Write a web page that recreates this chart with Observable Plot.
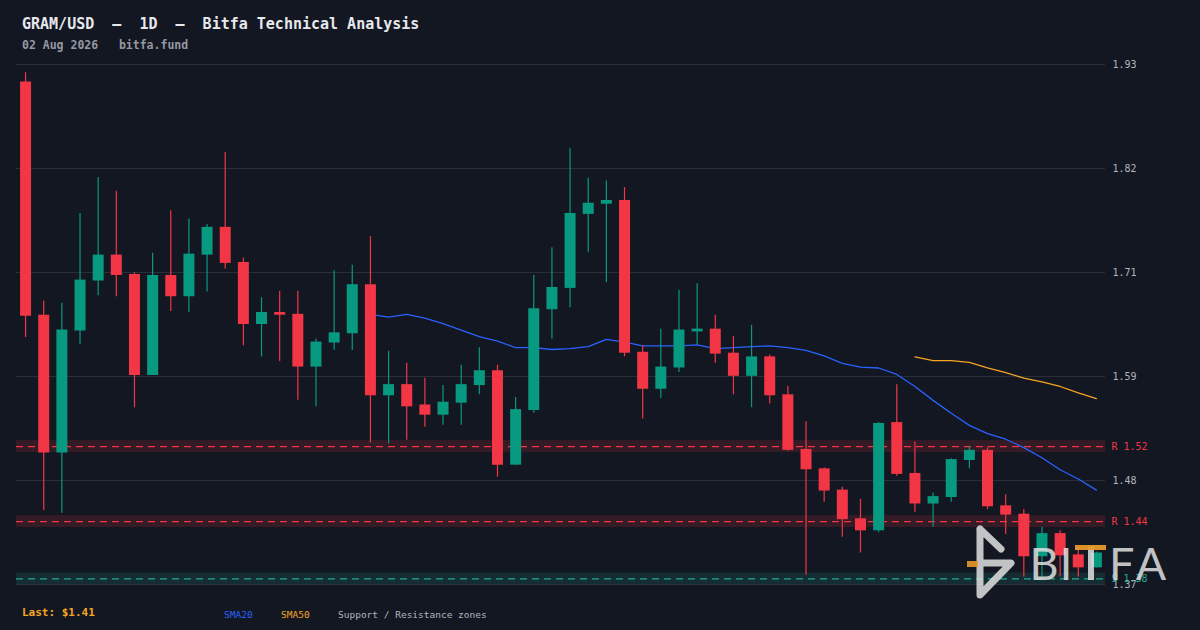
<!DOCTYPE html>
<html><head><meta charset="utf-8">
<script src="https://cdn.jsdelivr.net/npm/d3@7"></script>
<script src="https://cdn.jsdelivr.net/npm/@observablehq/plot@0.6"></script>
<style>
html,body{margin:0;padding:0;background:#131722;}
#wrap{position:relative;width:1200px;height:630px;overflow:hidden;background:#131722;font-family:"DejaVu Sans Mono",monospace;}
.t{position:absolute;white-space:pre;line-height:1;}
#title{left:22px;top:17px;font-size:15px;font-weight:bold;color:#e6e8ee;}
#sub{left:22px;top:40px;font-size:11.5px;font-weight:bold;color:#9598a1;}
#chart{position:absolute;left:0;top:0;}
#logo{position:absolute;left:0;top:0;pointer-events:none;}
#last{left:22px;top:607px;font-size:11px;font-weight:bold;color:#f5a524;}
#l20{left:224px;top:610px;font-size:9.5px;color:#2962ff;}
#l50{left:281px;top:610px;font-size:9.5px;color:#f5a524;}
#lz{left:338px;top:610px;font-size:9.5px;color:#b2b5be;}
</style></head>
<body>
<div id="wrap">
  <div id="chart"></div>
  <div class="t" id="title">GRAM/USD  –  1D  –  Bitfa Technical Analysis</div>
  <div class="t" id="sub">02 Aug 2026   bitfa.fund</div>
  <div class="t" id="last">Last: $1.41</div>
  <div class="t" id="l20">SMA20</div>
  <div class="t" id="l50">SMA50</div>
  <div class="t" id="lz">Support / Resistance zones</div>
  <svg id="logo" width="1200" height="630">
    <g stroke="#e2e2e2" stroke-opacity="0.85" stroke-width="7" fill="none" stroke-linecap="round" stroke-linejoin="round">
      <path d="M980,529 L1001,549 M980,529 L980,595 L1011,563 L980,563"/>
    </g>
    <rect x="967" y="561" width="11" height="6" fill="#e8982a" fill-opacity="0.9"/>
    <g font-family="Lato, 'Open Sans', sans-serif" font-size="45" fill="#e2e2e2" fill-opacity="0.85">
      <text x="1044" y="580" text-anchor="middle">B</text>
      <text x="1066" y="580" text-anchor="middle">I</text>
      <text x="1109" y="580" text-anchor="start">F</text>
      <text x="1151" y="580" text-anchor="middle">A</text>
    </g>
    <rect x="1088" y="546" width="6" height="34" fill="#e2e2e2" fill-opacity="0.85"/>
    <rect x="1075" y="545" width="31" height="5" fill="#e8982a" fill-opacity="0.95"/>
  </svg>
</div>
<script>
// ---- data ----
const opens  = [1.912,1.660,1.511,1.643,1.697,1.725,1.704,1.595,1.703,1.680,1.725,1.755,1.717,1.650,1.663,1.661,1.604,1.630,1.640,1.693,
                1.573,1.585,1.563,1.552,1.565,1.584,1.600,1.498,1.557,1.666,1.689,1.769,1.780,1.784,1.620,1.580,1.603,1.642,1.645,1.619,
                1.594,1.615,1.574,1.515,1.494,1.471,1.440,1.427,1.544,1.489,1.456,1.463,1.503,1.514,1.454,1.445,1.399,1.424,1.401,1.387];
const highs  = [1.922,1.675,1.673,1.770,1.809,1.794,1.706,1.727,1.773,1.764,1.758,1.836,1.722,1.679,1.686,1.686,1.634,1.708,1.714,1.745,
                1.621,1.608,1.592,1.584,1.606,1.625,1.606,1.571,1.703,1.733,1.840,1.808,1.805,1.798,1.627,1.645,1.687,1.694,1.660,1.637,
                1.649,1.617,1.583,1.545,1.495,1.474,1.461,1.544,1.585,1.523,1.468,1.505,1.518,1.517,1.466,1.450,1.431,1.427,1.406,1.404];
const lows   = [1.636,1.449,1.446,1.628,1.681,1.680,1.560,1.595,1.664,1.663,1.685,1.710,1.627,1.615,1.610,1.568,1.561,1.622,1.622,1.522,
                1.521,1.525,1.539,1.541,1.541,1.574,1.485,1.498,1.554,1.634,1.668,1.728,1.695,1.615,1.548,1.570,1.598,1.628,1.608,1.574,
                1.560,1.564,1.513,1.379,1.458,1.420,1.403,1.425,1.486,1.447,1.431,1.458,1.494,1.450,1.423,1.377,1.377,1.377,1.377,1.387];
const closes = [1.659,1.511,1.644,1.698,1.725,1.703,1.595,1.703,1.680,1.726,1.755,1.716,1.650,1.663,1.660,1.604,1.631,1.641,1.693,1.573,
                1.585,1.561,1.552,1.566,1.585,1.600,1.498,1.558,1.667,1.690,1.770,1.781,1.784,1.619,1.580,1.604,1.644,1.645,1.618,1.594,
                1.615,1.573,1.514,1.493,1.470,1.439,1.427,1.543,1.488,1.456,1.464,1.504,1.514,1.453,1.444,1.399,1.424,1.400,1.387,1.403];
const sma20Start = 19;
const sma20 = [1.661,1.658,1.661,1.657,1.651,1.644,1.637,1.632,1.625,1.625,1.623,1.624,1.626,1.634,1.631,1.627,1.627,1.627,1.628,1.624,
               1.625,1.626,1.627,1.625,1.622,1.616,1.608,1.604,1.603,1.596,1.583,1.568,1.554,1.541,1.532,1.526,1.517,1.506,1.493,1.483,1.471];
const sma50Start = 49;
const sma50 = [1.615,1.611,1.611,1.609,1.603,1.598,1.592,1.588,1.583,1.576,1.570];
const zoneLevels = [1.518, 1.437, 1.375];
const zoneKinds  = ["R", "R", "S"];
const zoneLabels = ["R 1.52", "R 1.44", "S 1.38"];
const yTicks = [1.369, 1.4814, 1.5938, 1.7062, 1.8186, 1.931];
const yTickLabels = ["1.37", "1.48", "1.59", "1.71", "1.82", "1.93"];

// ---- build tables ----
const UP = "#089981", DOWN = "#f23645", RES = "#f23645", SUP = "#22ab94";
const candles = opens.map((o, i) => ({i, open:o, high:highs[i], low:lows[i], close:closes[i], col: closes[i] >= o ? UP : DOWN}));
const s20 = sma20.map((v, k) => ({i: sma20Start + k, v}));
const s50 = sma50.map((v, k) => ({i: sma50Start + k, v}));
const zones = zoneLevels.map((lv, k) => ({level: lv, label: zoneLabels[k], col: zoneKinds[k] === "R" ? RES : SUP, lo: lv - 0.0065, hi: lv + 0.0065}));
const ticks = yTicks.map((v, k) => ({v, label: yTickLabels[k]}));

const chart = Plot.plot({
  width: 1200, height: 630,
  marginTop: 64, marginBottom: 46, marginLeft: 16, marginRight: 95,
  style: {background: "transparent", fontFamily: "'DejaVu Sans Mono', monospace", fontSize: "10px", color: "#b2b5be"},
  x: {domain: [-0.5, 59.5], axis: null},
  y: {domain: [1.369, 1.931], axis: null},
  color: {type: "identity"},
  marks: [
    Plot.ruleY(ticks, {y: "v", stroke: "#2a2e39", strokeWidth: 1}),
    Plot.rect(zones, {y1: "lo", y2: "hi", fill: "col", fillOpacity: 0.15}),
    Plot.ruleY(zones, {y: "level", stroke: "col", strokeWidth: 1.2, strokeDasharray: "7,5"}),
    Plot.line(s20, {x: "i", y: "v", stroke: "#2962ff", strokeWidth: 1.3}),
    Plot.line(s50, {x: "i", y: "v", stroke: "#f5a524", strokeWidth: 1.3}),
    Plot.ruleX(candles, {x: "i", y1: "low", y2: "high", stroke: "col", strokeWidth: 1.2}),
    Plot.ruleX(candles, {x: "i", y1: "open", y2: "close", stroke: "col", strokeWidth: 11, strokeLinecap: "butt"}),
    Plot.text(ticks, {y: "v", text: "label", frameAnchor: "right", textAnchor: "start", dx: 7, fill: "#b2b5be", fontSize: 10}),
    Plot.text(zones, {y: "level", text: "label", frameAnchor: "right", textAnchor: "start", dx: 6, fill: "col", fontSize: 10})
  ]
});
document.getElementById("chart").appendChild(chart);
</script>
</body></html>
